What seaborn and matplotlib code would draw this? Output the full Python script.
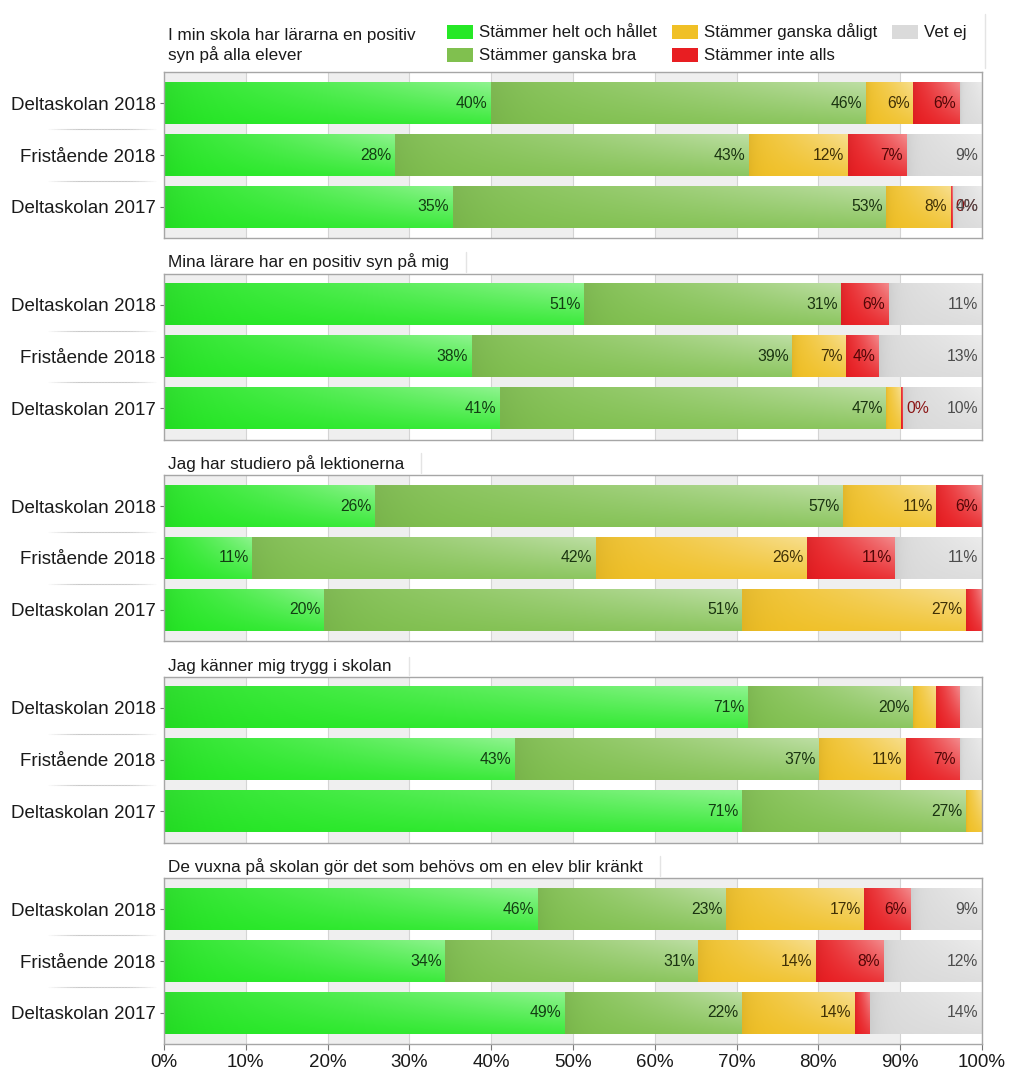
import numpy as np
import pandas as pd
import matplotlib
matplotlib.use("Agg")
import matplotlib.pyplot as plt
import seaborn as sns
from matplotlib.colors import to_rgb
from matplotlib.patches import Patch
from matplotlib.collections import LineCollection
from matplotlib.lines import Line2D
import matplotlib.transforms as mtransforms

# ---------------- data ----------------
groups = ["Deltaskolan 2018", "Fristående 2018", "Deltaskolan 2017"]
categories = ["Stämmer helt och hållet", "Stämmer ganska bra",
              "Stämmer ganska dåligt", "Stämmer inte alls", "Vet ej"]
questions = [
    "I min skola har lärarna en positiv\nsyn på alla elever",
    "Mina lärare har en positiv syn på mig",
    "Jag har studiero på lektionerna",
    "Jag känner mig trygg i skolan",
    "De vuxna på skolan gör det som behövs om en elev blir kränkt",
]
# rows = groups, columns = categories (percent)
q1_values = [[40.0, 45.8, 5.8, 5.7, 2.7],
             [28.2, 43.3, 12.1, 7.2, 9.2],
             [35.3, 53.0, 7.9, 0.2, 3.6]]
q2_values = [[51.4, 31.4, 0.0, 5.8, 11.4],
             [37.6, 39.2, 6.6, 4.0, 12.6],
             [41.1, 47.2, 1.8, 0.3, 9.6]]
q3_values = [[25.8, 57.2, 11.4, 5.6, 0.0],
             [10.8, 42.0, 25.8, 10.8, 10.6],
             [19.6, 51.1, 27.3, 2.0, 0.0]]
q4_values = [[71.4, 20.2, 2.8, 2.9, 2.7],
             [42.9, 37.2, 10.6, 6.6, 2.7],
             [70.7, 27.4, 1.9, 0.0, 0.0]]
q5_values = [[45.7, 23.0, 16.9, 5.7, 8.7],
             [34.4, 30.9, 14.4, 8.3, 12.0],
             [49.0, 21.7, 13.8, 1.8, 13.7]]
all_values = [q1_values, q2_values, q3_values, q4_values, q5_values]
x_ticks = list(range(0, 101, 10))
x_tick_labels = [f"{t}%" for t in x_ticks]

# ---------------- style ----------------
colors = ["#26e826", "#80c04f", "#f0c026", "#e81e22", "#dadada"]
label_colors = ["#123d12", "#1a3310", "#403005", "#520606", "#4d4d4d"]

sns.set_theme(style="white")
plt.rcParams["font.family"] = ["Liberation Sans", "DejaVu Sans"]

W, H = 1024, 1081
fig = plt.figure(figsize=(W / 100, H / 100), dpi=100)
fig.patch.set_facecolor("white")

ax_left_px, ax_w_px, ax_h_px = 164, 818, 166
tops = [72 + i * 201.5 for i in range(5)]


def add_gradient(ax, rect, color):
    x, y = rect.get_x(), rect.get_y()
    w, h = rect.get_width(), rect.get_height()
    if w <= 0:
        return
    nx, ny = 80, 24
    t = np.linspace(0, 1, nx)[None, :]
    s = np.linspace(0, 1, ny)[:, None]
    base = np.array(to_rgb(color))
    light = 0.42 * np.clip(t, 0, 1) ** 1.3 * (1 - 0.75 * s) + 0.06 * (1 - s)
    dark = 0.06 * np.exp(-t * 12)
    img = base[None, None, :] * (1 - light[..., None]) + light[..., None]
    img = img * (1 - dark[..., None])
    ax.imshow(np.clip(img, 0, 1), extent=(x, x + w, y + h, y), aspect="auto",
              zorder=rect.get_zorder() + 0.1, interpolation="bilinear")


axes = []
titles = []
for i, (q, vals) in enumerate(zip(questions, all_values)):
    top = tops[i]
    ax = fig.add_axes([ax_left_px / W, 1 - (top + ax_h_px) / H, ax_w_px / W, ax_h_px / H])
    axes.append(ax)
    vals = np.array(vals)
    lefts = np.zeros(len(groups))
    for k, cat in enumerate(categories):
        df = pd.DataFrame({"group": groups, "value": vals[:, k]})
        sns.barplot(data=df, x="value", y="group", order=groups, orient="h",
                    color=colors[k], saturation=1, width=0.8, errorbar=None,
                    left=lefts.copy(), linewidth=0, ax=ax)
        cont = ax.containers[-1]
        for g, rect in enumerate(cont):
            add_gradient(ax, rect, colors[k])
            v = vals[g, k]
            end = rect.get_x() + rect.get_width()
            yc = rect.get_y() + rect.get_height() / 2
            if v >= 3.5:
                ax.text(end - 0.45, yc, f"{v:.0f}%", ha="right", va="center",
                        fontsize=11.3, color=label_colors[k], zorder=5)
            elif 0 < v < 0.5:
                ax.text(end + 0.35, yc, f"{v:.0f}%", ha="left", va="center",
                        fontsize=11.3, color="#8a1414", zorder=5)
        lefts = lefts + vals[:, k]

    # background bands + grid
    for d in range(0, 100, 20):
        ax.axvspan(d, d + 10, color="#efefef", zorder=0, lw=0)
    ax.set_xticks(x_ticks)
    ax.grid(axis="x", color="#d4d4d4", lw=0.8)
    ax.grid(axis="y", visible=False)
    ax.set_axisbelow(True)
    ax.set_xlim(0, 100)
    ax.set_ylim(2.6, -0.6)
    ax.set_xlabel("")
    ax.set_ylabel("")
    for sp in ax.spines.values():
        sp.set_color("#a6a6a6")
        sp.set_linewidth(1)
    ax.tick_params(axis="y", length=3, width=0.8, color="#777777", labelsize=13.5,
                   labelcolor="#1a1a1a", pad=3, left=True)
    if i < 4:
        ax.tick_params(axis="x", length=0, labelbottom=False)
    else:
        ax.set_xticklabels(x_tick_labels)
        ax.tick_params(axis="x", length=4, width=0.8, color="#777777", labelsize=13.5,
                       labelcolor="#1a1a1a", pad=3, bottom=True)

    # separator lines between y labels
    trans = mtransforms.blended_transform_factory(ax.transAxes, ax.transData)
    xs = np.linspace(-0.145, -0.006, 40)
    for yy in (0.5, 1.5):
        segs = [[(xs[j], yy), (xs[j + 1], yy)] for j in range(len(xs) - 1)]
        tt = np.linspace(0, 1, len(segs))
        alph = np.clip(np.sin(np.pi * tt) * 1.3, 0, 1) * 0.45
        cols = [(0.55, 0.55, 0.55, a) for a in alph]
        lc = LineCollection(segs, colors=cols, linewidths=0.8, transform=trans, clip_on=False)
        ax.add_collection(lc)

    # panel title
    off_px = 9 if i == 0 else 3
    offset = mtransforms.ScaledTranslation(0, off_px / 100, fig.dpi_scale_trans)
    t = ax.text(0.005, 1.0, q, transform=ax.transAxes + offset, ha="left", va="bottom",
                fontsize=12.3, color="#1a1a1a", linespacing=1.25)
    titles.append(t)

# legend
handles = [Patch(facecolor=c, edgecolor="none") for c in colors]
leg = fig.legend(handles, categories, loc="upper left",
                 bbox_to_anchor=(439 / W, 1 - 15 / H), ncol=3, frameon=False,
                 fontsize=12.2, borderpad=0, handlelength=1.5, handleheight=0.9,
                 handletextpad=0.35, columnspacing=0.92, labelspacing=0.42,
                 labelcolor="#1a1a1a")

# faint separators to the right of titles / legend
fig.canvas.draw()
renderer = fig.canvas.get_renderer()
for t in titles[1:]:
    bb = t.get_window_extent(renderer)
    xline = bb.x1 + 17
    fig.add_artist(Line2D([xline / W, xline / W], [(bb.y0 - 1) / H, (bb.y1 + 2) / H],
                          transform=fig.transFigure, color="#e4e4e4", lw=1))
fig.add_artist(Line2D([985 / W, 985 / W], [1 - 68 / H, 1 - 14 / H],
                      transform=fig.transFigure, color="#e4e4e4", lw=1))

fig.savefig("out.png", dpi=100, facecolor="white")
